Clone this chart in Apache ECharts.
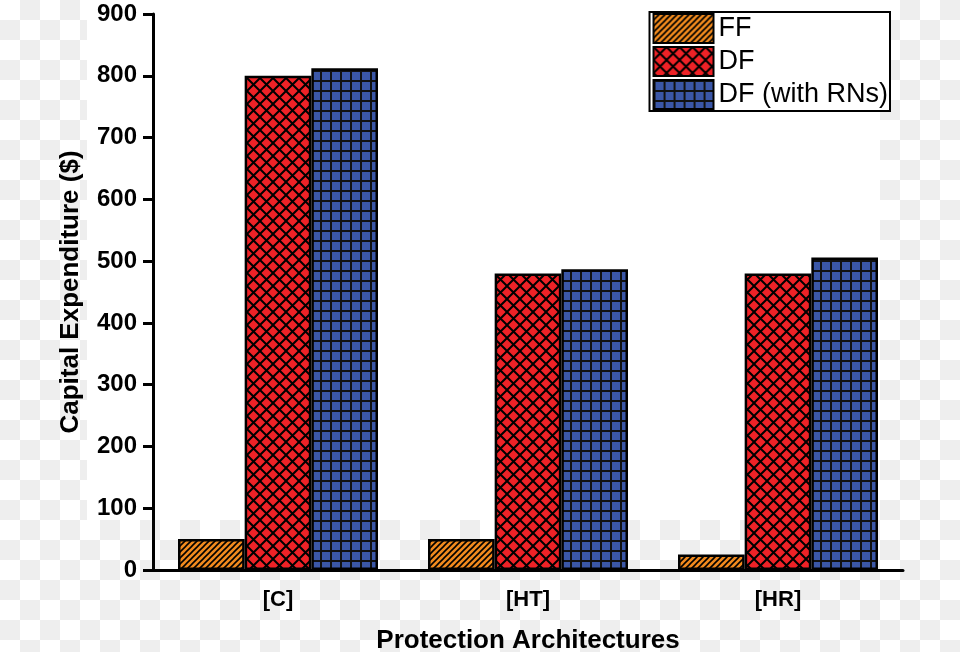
<!DOCTYPE html>
<html>
<head>
<meta charset="utf-8">
<script src="https://cdn.jsdelivr.net/npm/echarts@6/dist/echarts.min.js"></script>
<style>
html,body{margin:0;padding:0;}
body{width:960px;height:652px;position:relative;overflow:hidden;
background-image:conic-gradient(#eeeeee 0 25%, #ffffff 0 50%, #eeeeee 0 75%, #ffffff 0);
background-size:40px 40px;background-position:0 0;}
#paper{position:absolute;left:87px;top:0;width:793px;height:520px;background:#fff;}
#chart{position:absolute;left:0;top:0;width:960px;height:652px;}
</style>
</head>
<body>
<div id="paper"></div>
<div id="chart"></div>
<script>
const categories = ['[C]', '[HT]', '[HR]'];
const seriesNames = ['FF', 'DF', 'DF (with RNs)'];
const ffValues = [50, 50, 25];
const dfValues = [800, 480, 480];
const dfRnValues = [812, 487, 506];
const yTicks = [0, 100, 200, 300, 400, 500, 600, 700, 800, 900];

function makeTile(size, bg, draw) {
  const c = document.createElement('canvas');
  c.width = size; c.height = size;
  const g = c.getContext('2d');
  g.fillStyle = bg; g.fillRect(0, 0, size, size);
  g.strokeStyle = '#000';
  draw(g, size);
  return c;
}
const stripeTile = makeTile(6, '#f18a1e', (g, s) => {
  g.lineWidth = 1.6;
  g.beginPath();
  g.moveTo(-1, s + 1); g.lineTo(s + 1, -1);
  g.moveTo(-1, 1); g.lineTo(1, -1);
  g.moveTo(s - 1, s + 1); g.lineTo(s + 1, s - 1);
  g.stroke();
});
const crossTile = makeTile(13, '#ee2227', (g, s) => {
  g.lineWidth = 2;
  g.beginPath();
  g.moveTo(-2, -2); g.lineTo(s + 2, s + 2);
  g.moveTo(-2, s + 2); g.lineTo(s + 2, -2);
  g.stroke();
});
const gridTile = makeTile(10, '#3b57a7', (g, s) => {
  g.fillStyle = '#111';
  g.fillRect(0, 0, s, 2);
  g.fillRect(0, 0, 2, s);
});
const patterns = [stripeTile, crossTile, gridTile].map(t => ({image: t, repeat: 'repeat'}));
const values = [ffValues, dfValues, dfRnValues];

const chart = echarts.init(document.getElementById('chart'), null, {renderer: 'canvas'});
const font = 'Liberation Sans, Arial, sans-serif';
chart.setOption({
  backgroundColor: 'transparent',
  animation: false,
  grid: {left: 153, right: 57, top: 14, bottom: 82, containLabel: false, outerBoundsMode: 'none'},
  legend: {
    data: seriesNames,
    orient: 'vertical',
    right: 70, top: 12,
    icon: 'rect',
    itemWidth: 60, itemHeight: 29, itemGap: 2,
    padding: [1, 2, 1, 3],
    borderColor: '#000', borderWidth: 2,
    backgroundColor: '#fff',
    textStyle: {fontFamily: font, fontSize: 27, lineHeight: 29, color: '#000'},
    itemStyle: {borderColor: '#000', borderWidth: 2}
  },
  xAxis: [{
    type: 'category', data: categories,
    name: 'Protection Architectures', nameLocation: 'middle', nameGap: 58,
    nameTextStyle: {fontFamily: font, fontSize: 26, fontWeight: 'bold', color: '#000'},
    axisLine: {lineStyle: {color: '#000', width: 3}},
    axisTick: {alignWithLabel: true, length: 10, lineStyle: {width: 3, color: '#000'}},
    axisLabel: {fontFamily: font, fontSize: 22, fontWeight: 'bold', color: '#000', margin: 19},
    splitLine: {show: false}
  }, {
    type: 'category', data: categories, position: 'bottom',
    axisLine: {show: false},
    axisTick: {length: 6, lineStyle: {width: 3, color: '#000'}},
    axisLabel: {show: false},
    splitLine: {show: false}
  }],
  yAxis: {
    type: 'value', min: yTicks[0], max: yTicks[yTicks.length - 1], interval: 100,
    name: 'Capital Expenditure ($)', nameLocation: 'middle', nameGap: 69,
    nameTextStyle: {fontFamily: font, fontSize: 26, fontWeight: 'bold', color: '#000'},
    axisLine: {show: true, lineStyle: {color: '#000', width: 3}},
    axisTick: {show: true, length: 10, lineStyle: {width: 3, color: '#000'}},
    axisLabel: {fontFamily: font, fontSize: 24, fontWeight: 'bold', color: '#000', margin: 16},
    splitLine: {show: false}
  },
  series: seriesNames.map((n, i) => ({
    name: n, type: 'bar', data: values[i],
    barGap: '0%', barCategoryGap: '20%',
    itemStyle: {color: patterns[i], borderColor: '#000', borderWidth: 2.5}
  }))
});
</script>
</body>
</html>
